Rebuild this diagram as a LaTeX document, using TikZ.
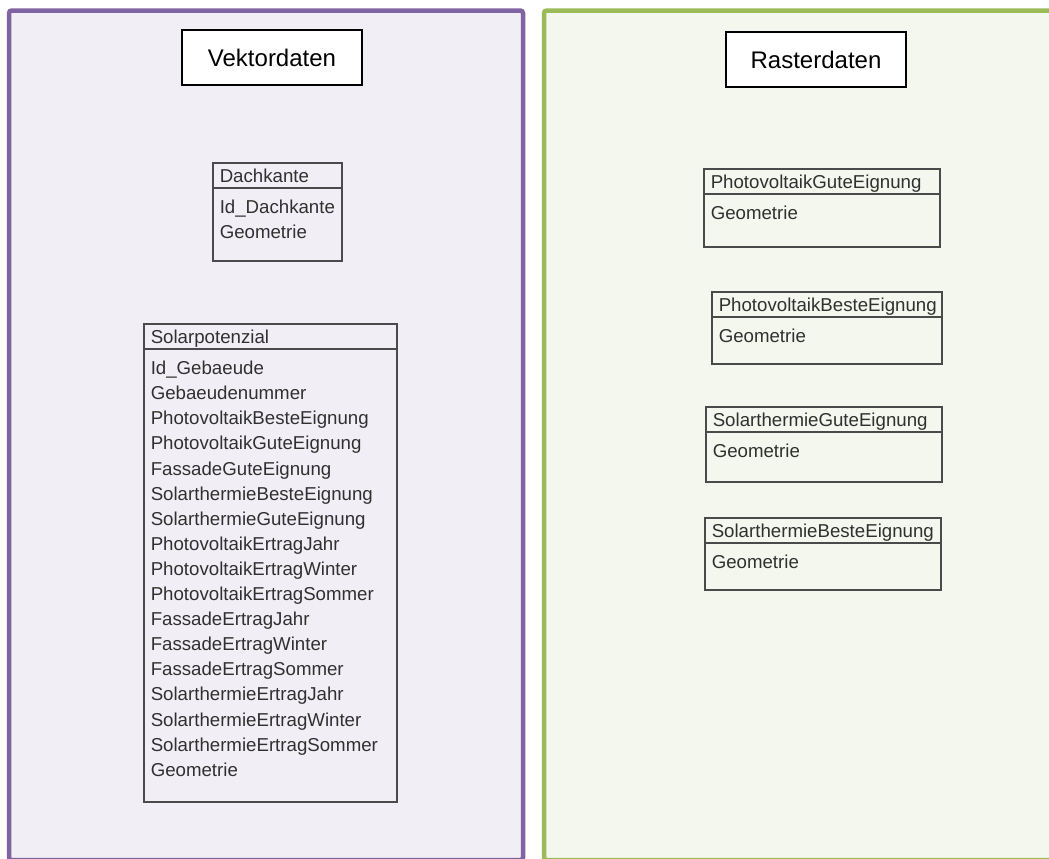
\documentclass[tikz,border=0pt]{standalone}
\usepackage{fontspec}
\setmainfont{Liberation Sans}
\usetikzlibrary{calc}
\definecolor{vektorrand}{HTML}{8064A2}
\definecolor{vektorgrund}{HTML}{F1EFF5}
\definecolor{rasterrand}{HTML}{9BBB59}
\definecolor{rastergrund}{HTML}{F4F7EE}
\definecolor{klassenlinie}{HTML}{4A4A4A}
\definecolor{klassentext}{HTML}{303030}
\def\px{*0.75pt}
\tikzset{
  panel/.style={line width=4.5\px, rounded corners=2pt},
  titlebox/.style={draw=black, line width=1.5\px, fill=white, inner sep=0pt,
    minimum width=180\px, minimum height=55\px, font=\fontsize{18pt}{22pt}\selectfont},
  classbox/.style={draw=klassenlinie, line width=1.6\px, anchor=north west,
    inner sep=0pt, outer sep=0pt},
  classline/.style={draw=klassenlinie, line width=1.6\px},
  classtext/.style={anchor=base west, inner sep=0pt, text=klassentext,
    font=\fontsize{14pt}{17pt}\selectfont}
}
% Klasse: (name)(x,y)(breite,hoehe){titel}{attribute}
\def\umlclass(#1)(#2,#3)(#4,#5)#6#7{%
  \node[classbox, minimum width=#4\px, minimum height=#5\px] (#1) at (#2,#3) {};
  \draw[classline] ([yshift=-25\px]#1.north west) -- ([yshift=-25\px]#1.north east);
  \node[classtext] (#1-titel) at ($(#1.north west)+(6.5,19.5)$) {#6};
  \foreach [count=\i] \attr in {#7}
    \node[classtext] (#1-\i) at ($(#1.north west)+(6.5,25.5+25.1*\i)$) {\attr};
}

\begin{document}
\begin{tikzpicture}[x=0.75pt, y=-0.75pt]
  \useasboundingbox (0,0) rectangle (1049,858);
  \fill[white] (0,0) rectangle (1049,858);

  %%%%% Vektordaten %%%%%
  \draw[panel, draw=vektorrand, fill=vektorgrund] (9,10.5) rectangle (523,860);
  \node[titlebox] (vektor) at (272,57.5) {Vektordaten};

  \umlclass(dachkante)(213,163)(129,98){Dachkante}{Id\_Dachkante, Geometrie}
  \umlclass(solar)(144,324)(253,478){Solarpotenzial}{Id\_Gebaeude, Gebaeudenummer,
    PhotovoltaikBesteEignung, PhotovoltaikGuteEignung, FassadeGuteEignung,
    SolarthermieBesteEignung, SolarthermieGuteEignung, PhotovoltaikErtragJahr,
    PhotovoltaikErtragWinter, PhotovoltaikErtragSommer, FassadeErtragJahr,
    FassadeErtragWinter, FassadeErtragSommer, SolarthermieErtragJahr,
    SolarthermieErtragWinter, SolarthermieErtragSommer, Geometrie}

  %%%%% Rasterdaten %%%%%
  \draw[panel, draw=rasterrand, fill=rastergrund] (544,10.5) rectangle (1060,860);
  \node[titlebox] (raster) at (816,59.5) {Rasterdaten};

  \umlclass(pvgut)(704,169)(236,78){PhotovoltaikGuteEignung}{Geometrie}
  \umlclass(pvbest)(712,292)(230,72){PhotovoltaikBesteEignung}{Geometrie}
  \umlclass(stgut)(706,407)(236,75){SolarthermieGuteEignung}{Geometrie}
  \umlclass(stbest)(705,518)(236,72){SolarthermieBesteEignung}{Geometrie}
\end{tikzpicture}
\end{document}
